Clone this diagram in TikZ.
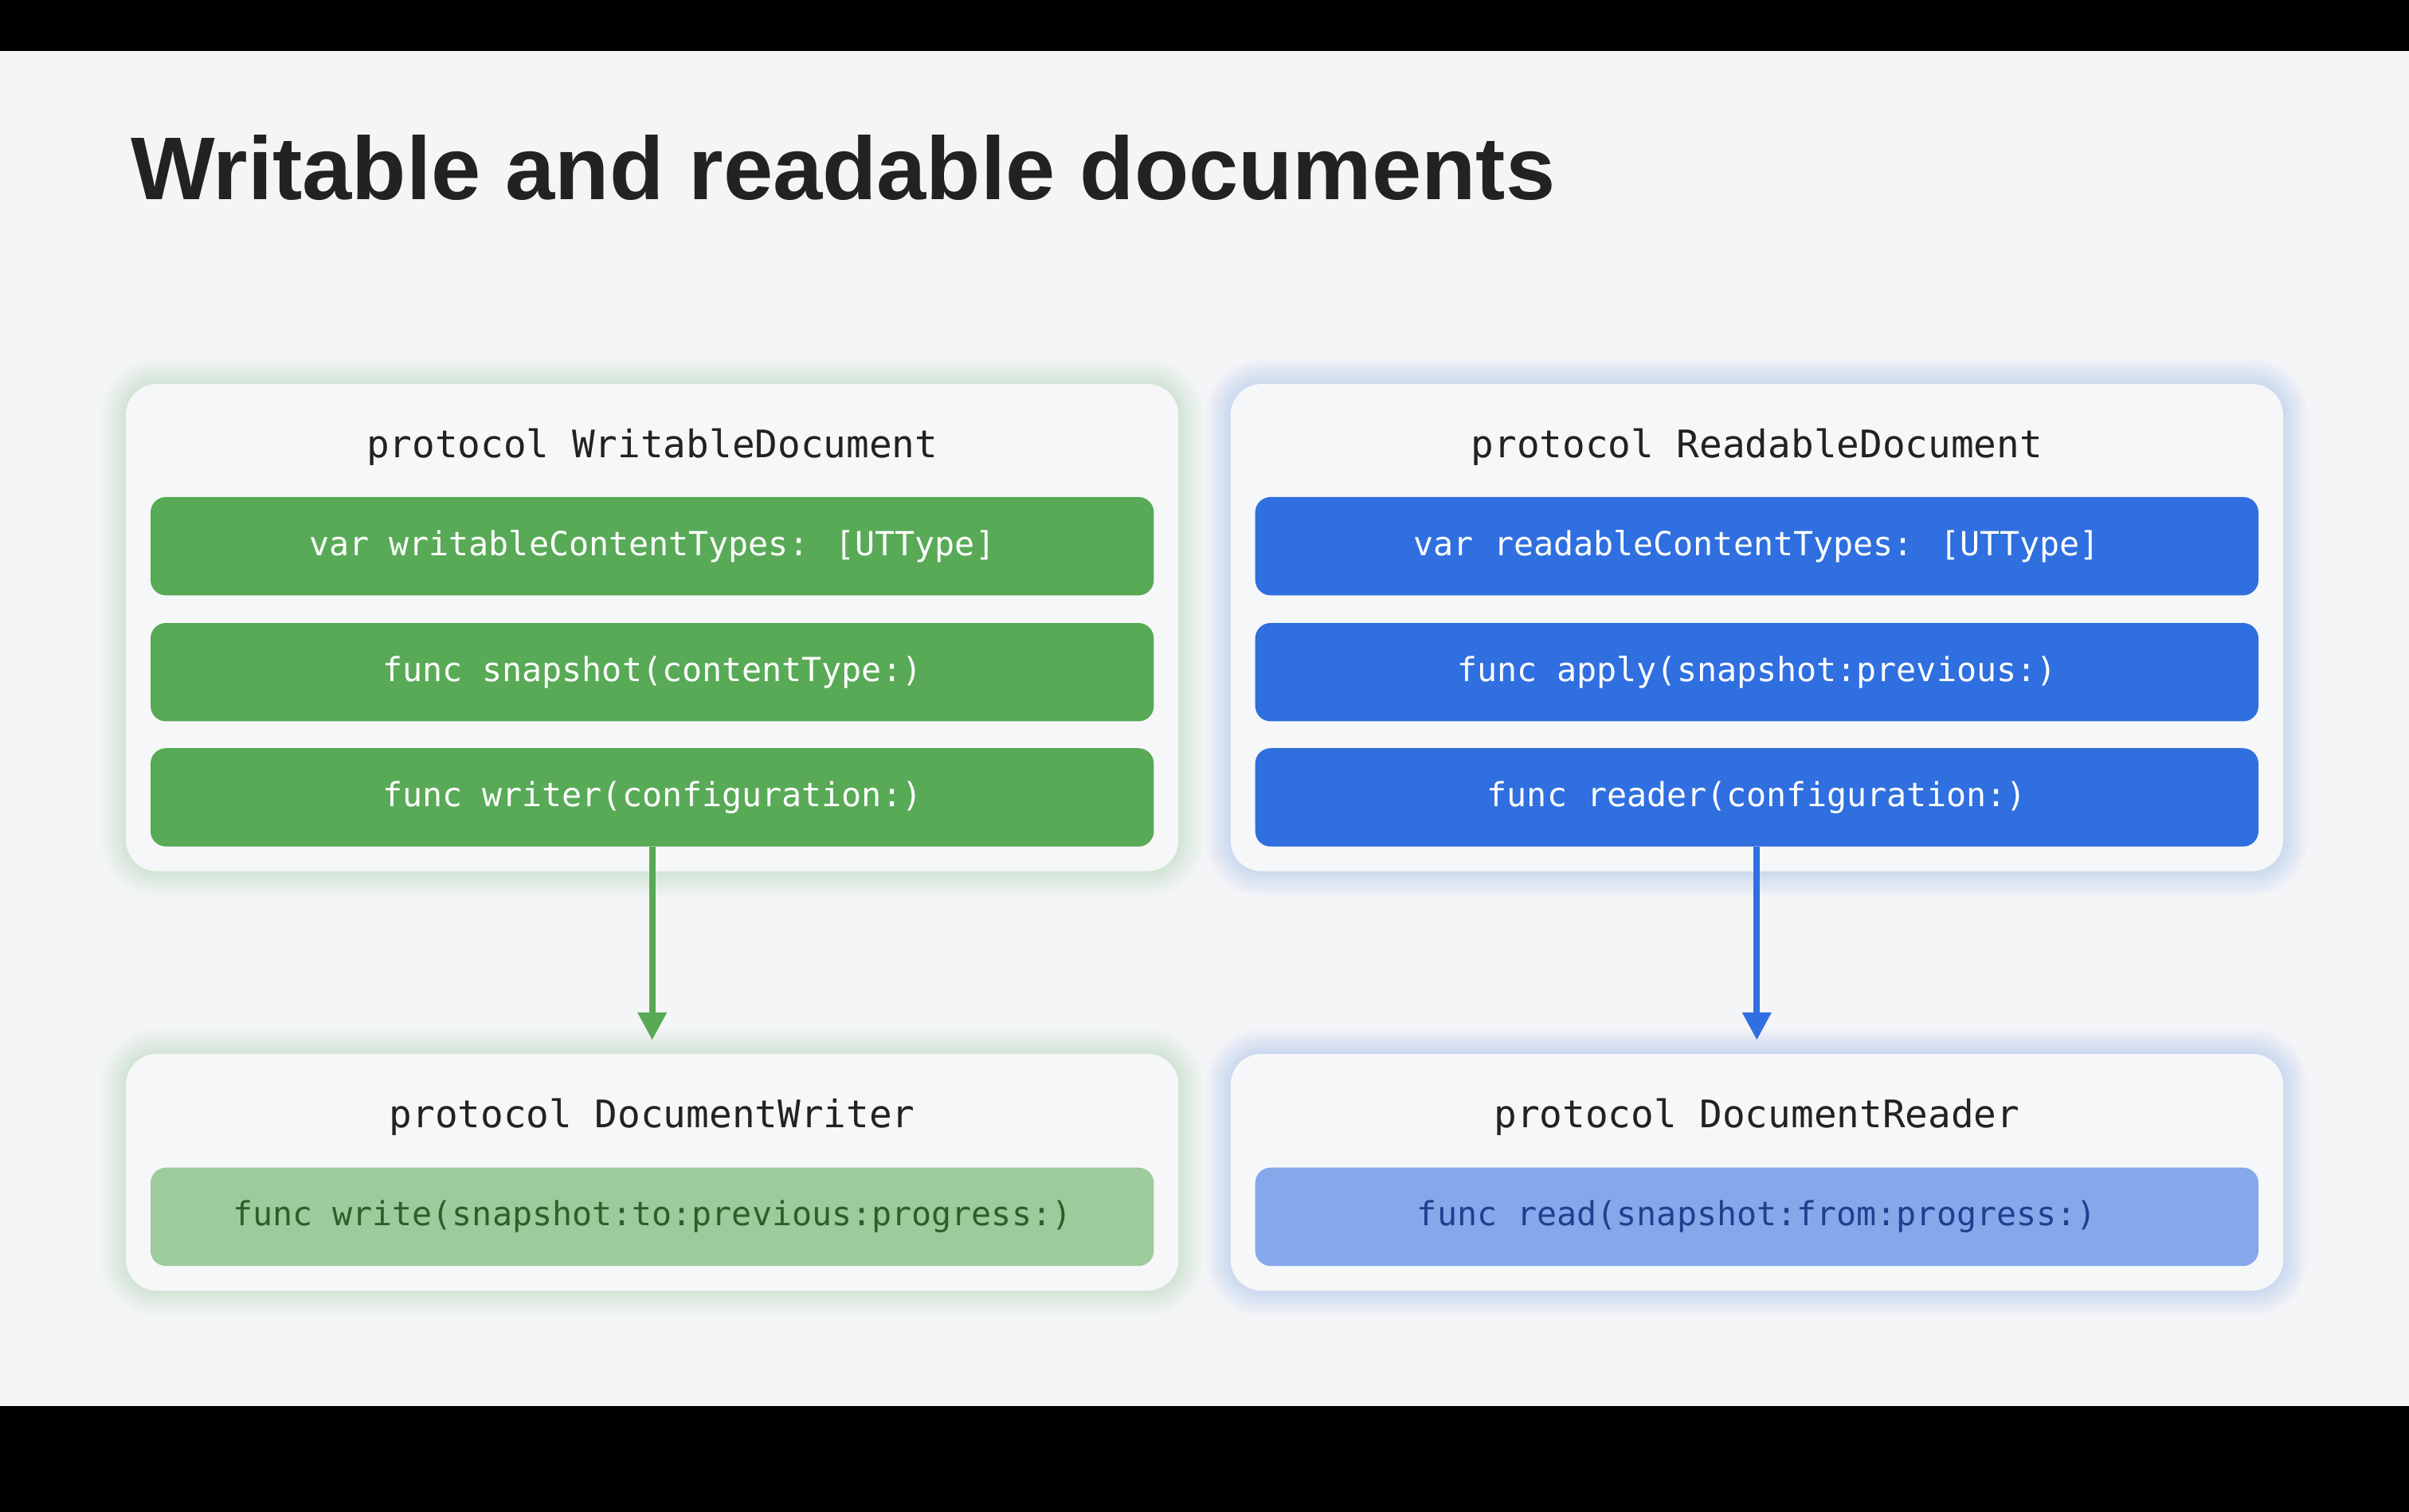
\documentclass[tikz,border=0pt]{standalone}
\usepackage{fontspec}
\setmainfont{Liberation Sans}
\newfontfamily\monof{DejaVu Sans Mono}
\usetikzlibrary{arrows.meta}
\definecolor{bg}{HTML}{F4F5F7}
\definecolor{panel}{HTML}{F6F7F8}
\definecolor{gr}{HTML}{58AA56}
\definecolor{bl}{HTML}{2F6FDF}
\definecolor{lgr}{HTML}{9DCB9B}
\definecolor{lbl}{HTML}{86A8EB}
\definecolor{dgr}{HTML}{2D5E2B}
\definecolor{dbl}{HTML}{1F3F8F}
\definecolor{ttl}{HTML}{222222}
\tikzset{
 x=1pt,y=-1pt,
 bar/.style={rounded corners=10pt,minimum width=653pt,minimum height=64pt,inner sep=0pt,font=\monof\fontsize{21.6}{21.6}\selectfont},
 hdr/.style={font=\monof\fontsize{24.7}{24.7}\selectfont,text=ttl,inner sep=0pt},
 arr/.style={line width=4pt,-{Triangle[length=18pt,width=18pt]}},
}
\newcommand{\glowbox}[5]{% x1,y1,x2,y2,color
  \foreach \i in {16,14,...,2}{
    \fill[#5,opacity=0.025,rounded corners=20pt+\i pt] (#1-\i,#2-\i) rectangle (#3+\i,#4+\i);}
  \fill[panel,rounded corners=20pt] (#1,#2) rectangle (#3,#4);}
\begin{document}
\begin{tikzpicture}
\useasboundingbox (0,0) rectangle (1568,984);
\fill[black] (0,0) rectangle (1568,984);
\fill[bg] (0,33) rectangle (1568,915);
\node[anchor=base west,inner sep=0pt,font=\bfseries\fontsize{58}{58}\selectfont,text=ttl] (title) at (85,130) {Writable and readable documents};

\glowbox{82}{250}{767}{567}{gr}
\glowbox{801}{250}{1486}{567}{bl}
\glowbox{82}{686}{767}{840}{gr}
\glowbox{801}{686}{1486}{840}{bl}

\node[hdr] (wh) at (424.5,291) {protocol WritableDocument};
\node[bar,fill=gr,text=white] (w1) at (424.5,355.5) {\raisebox{-2pt}{var writableContentTypes: [UTType]}};
\node[bar,fill=gr,text=white] (w2) at (424.5,437.5) {\raisebox{-2pt}{func snapshot(contentType:)}};
\node[bar,fill=gr,text=white] (w3) at (424.5,519) {\raisebox{-2pt}{func writer(configuration:)}};

\node[hdr] (rh) at (1143.5,291) {protocol ReadableDocument};
\node[bar,fill=bl,text=white] (r1) at (1143.5,355.5) {\raisebox{-2pt}{var readableContentTypes: [UTType]}};
\node[bar,fill=bl,text=white] (r2) at (1143.5,437.5) {\raisebox{-2pt}{func apply(snapshot:previous:)}};
\node[bar,fill=bl,text=white] (r3) at (1143.5,519) {\raisebox{-2pt}{func reader(configuration:)}};

\node[hdr] (dwh) at (424.5,727) {protocol DocumentWriter};
\node[bar,fill=lgr,text=dgr] (dw) at (424.5,792) {\raisebox{-2pt}{func write(snapshot:to:previous:progress:)}};
\node[hdr] (drh) at (1143.5,727) {protocol DocumentReader};
\node[bar,fill=lbl,text=dbl] (dr) at (1143.5,792) {\raisebox{-2pt}{func read(snapshot:from:progress:)}};

\coordinate (wend) at (424.5,677);
\coordinate (rend) at (1143.5,677);
\draw[arr,gr] (w3.south) -- (wend);
\draw[arr,bl] (r3.south) -- (rend);
\end{tikzpicture}
\end{document}
